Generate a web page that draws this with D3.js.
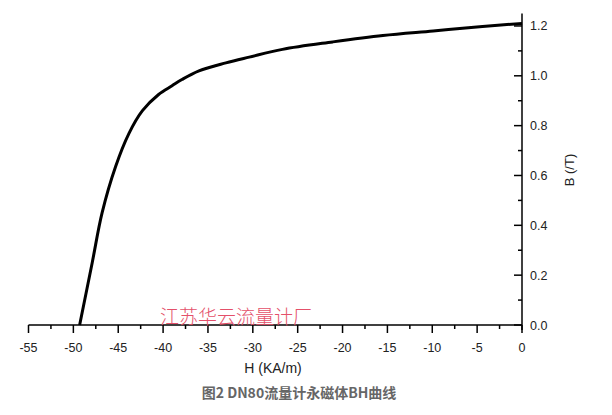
<!DOCTYPE html>
<html><head><meta charset="utf-8">
<script src="https://cdn.jsdelivr.net/npm/d3@7/dist/d3.min.js"></script>
<style>body{margin:0;background:#fff}svg{display:block}</style>
</head><body>
<script>
// Data
const H = [-49.3, -47.9, -46.8, -45.3, -43.8, -42.3, -40.5, -39.0, -37.9, -36.0, -33.0, -30.4, -26.7, -21.1, -15.5, -9.9, -4.4, 0];
const B = [0.0, 0.25, 0.45, 0.635, 0.769, 0.86, 0.925, 0.96, 0.985, 1.02, 1.052, 1.075, 1.106, 1.136, 1.162, 1.180, 1.198, 1.21];
const xTicks = [-55, -50, -45, -40, -35, -30, -25, -20, -15, -10, -5, 0];
const yTicks = [0.0, 0.2, 0.4, 0.6, 0.8, 1.0, 1.2];
const xTitle = "H (KA/m)";
const yTitle = "B (/T)";
const caption = "图2 DN80流量计永磁体BH曲线";
const watermark = "江苏华云流量计厂";

const W = 612, Hh = 415;
const svg = d3.select("body").append("svg").attr("width", W).attr("height", Hh);
const x = d3.scaleLinear().domain([-55, 0]).range([28.5, 522]);
const y = d3.scaleLinear().domain([0, 1.25]).range([325, 13.5]);
const font = "'Liberation Sans', Arial, sans-serif";

// X axis
const xAxis = svg.append("g").attr("transform", "translate(0,325)");
xAxis.append("line").attr("x1", x(-55)).attr("x2", x(0)).attr("stroke", "#000").attr("stroke-width", 1.5);
const xMinor = d3.range(-55, 0.01, 2.5);
xAxis.selectAll("line.t").data(xMinor).join("line").attr("class", "t")
  .attr("x1", d => x(d)).attr("x2", d => x(d)).attr("y1", 0)
  .attr("y2", d => (Math.abs(d % 5) < 1e-6 ? 8 : 4)).attr("stroke", "#000").attr("stroke-width", 1.5);
xAxis.selectAll("text").data(xTicks).join("text")
  .attr("x", d => x(d)).attr("y", 26.5).attr("text-anchor", "middle")
  .attr("font-family", font).attr("font-size", 12.5).attr("fill", "#222")
  .text(d => d);

// Y axis
const yAxis = svg.append("g").attr("transform", "translate(522,0)");
yAxis.append("line").attr("y1", y(0) + 5).attr("y2", y(1.25)).attr("stroke", "#000").attr("stroke-width", 1.5);
const yMinor = d3.range(0, 1.2501, 0.1);
yAxis.selectAll("line.t").data(yMinor).join("line").attr("class", "t")
  .attr("y1", d => y(d)).attr("y2", d => y(d)).attr("x1", 0)
  .attr("x2", (d, i) => (i % 2 === 0 ? -8 : -4)).attr("stroke", "#000").attr("stroke-width", 1.5);
yAxis.selectAll("text").data(yTicks).join("text")
  .attr("x", 8).attr("y", d => y(d) + 4.5)
  .attr("font-family", font).attr("font-size", 12.5).attr("fill", "#222")
  .text(d => d.toFixed(1));

// Titles
svg.append("text").attr("x", 273).attr("y", 373).attr("text-anchor", "middle")
  .attr("font-family", font).attr("font-size", 14).attr("fill", "#222").text(xTitle);
svg.append("text").attr("transform", "translate(574,170) rotate(-90)").attr("text-anchor", "middle")
  .attr("font-family", font).attr("font-size", 13).attr("fill", "#222").text(yTitle);

// Curve
const pts = H.map((h, i) => [h, B[i]]);
svg.append("path").datum(pts)
  .attr("d", d3.line().x(d => x(d[0])).y(d => y(d[1])).curve(d3.curveCatmullRom.alpha(0.5)))
  .attr("fill", "none").attr("stroke", "#000").attr("stroke-width", 3)
  .attr("stroke-linejoin", "round");

// Watermark
svg.append("text").attr("x", 160).attr("y", 324)
  .attr("font-family", "'Noto Sans CJK SC', sans-serif").attr("font-size", 19)
  .attr("font-weight", 300).attr("fill", "#e4506a").text(watermark);

// Caption
svg.append("text").attr("x", 299).attr("y", 398).attr("text-anchor", "middle")
  .attr("font-family", "'Noto Sans CJK SC', " + font).attr("font-size", 14)
  .attr("font-weight", "bold").attr("fill", "#666").text(caption);
</script>
</body></html>
